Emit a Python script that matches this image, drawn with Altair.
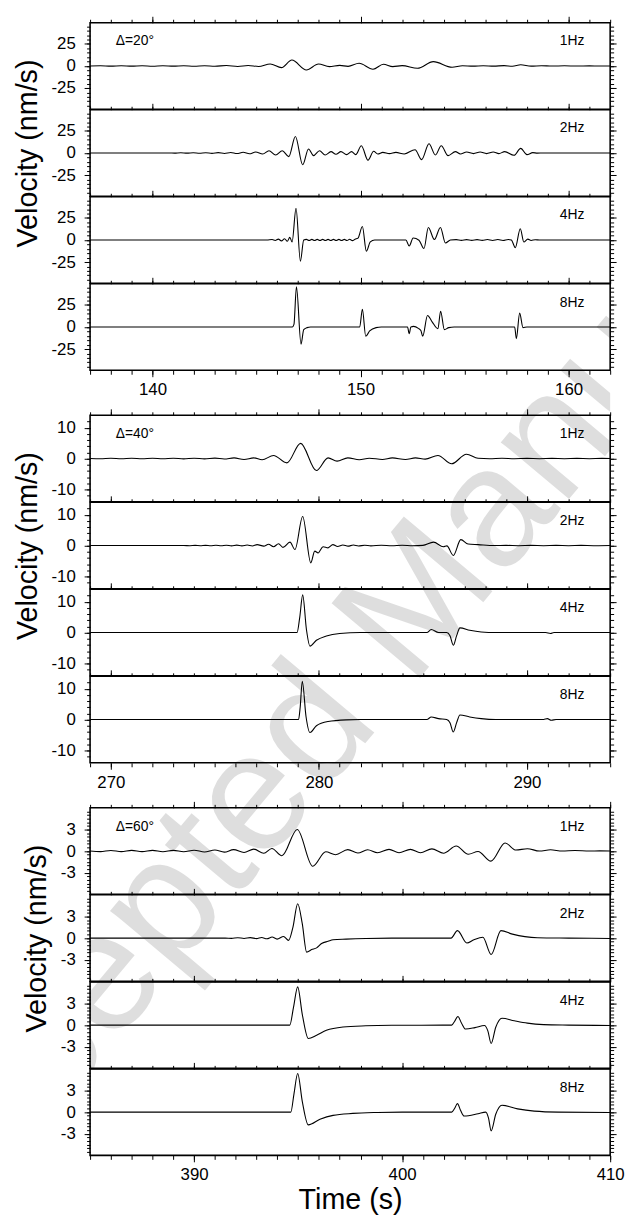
import altair as alt
import pandas as pd

FONT = "Liberation Sans"

DELTA_LABELS = ["Δ=20°", "Δ=40°", "Δ=60°"]
FREQ_LABELS = ["1Hz", "2Hz", "4Hz", "8Hz"]
X_DOMAINS = [[137, 162], [269, 294], [385, 410]]
Y_LIMITS = [49, 14, 6]
X_MAJOR = [[140, 150, 160], [270, 280, 290], [390, 400, 410]]
Y_MAJOR = [[-25, 0, 25], [-10, 0, 10], [-3, 0, 3]]
Y_MINOR_STEP = [5, 2, 0.5]
WATERMARK = "Accepted Manuscript"

# ---------------- Delta = 20 deg ----------------
T20_1 = [137.0, 137.5, 138.0, 138.5, 139.0, 139.5, 140.0, 140.5, 141.0, 141.5, 142.0, 142.5, 143.0, 143.55, 144.1, 144.6, 145.1, 145.66, 146.2, 146.7, 147.4, 147.98, 148.5, 149.0, 149.4, 149.93, 150.6, 151.1, 151.55, 152.0, 152.74, 153.5, 154.4, 154.9, 155.4, 155.9, 156.4, 156.9, 157.3, 157.7, 158.2, 158.7, 159.2, 159.8, 160.4, 161.0, 161.5, 162.0]
V20_1 = [0.0, 0.2, -0.2, 0.2, -0.2, 0.2, -0.3, 0.2, -0.2, 0.3, -0.3, 0.3, -0.3, 0.5, -0.5, 0.6, -0.6, 2.2, -1.9, 6.7, -4.5, 2.2, -0.7, 0.7, -0.4, 3.0, -3.7, 1.9, -0.7, 0.4, -2.6, 4.9, -1.5, 0.3, -0.2, 0.3, -0.2, 0.4, -0.3, 1.3, -0.2, 0.3, -0.1, 0.2, -0.1, 0.1, -0.1, 0.0]

T20_2 = [137.0, 140.8, 141.06, 141.36, 141.66, 141.96, 142.26, 142.56, 142.86, 143.16, 143.46, 143.76, 144.06, 144.36, 144.66, 144.96, 145.3, 145.6, 145.92, 146.24, 146.55, 146.87, 147.22, 147.5, 147.74, 148.03, 148.3, 148.58, 148.82, 149.06, 149.33, 149.57, 149.77, 150.04, 150.36, 150.63, 150.83, 151.07, 151.39, 151.7, 152.1, 152.62, 152.94, 153.29, 153.6, 153.88, 154.21, 154.56, 154.8, 155.1, 155.43, 155.75, 156.06, 156.38, 156.65, 156.93, 157.38, 157.7, 158.0, 158.28, 158.5, 158.8, 162.0]
V20_2 = [0.0, 0.0, -0.2, 0.2, -0.2, 0.3, -0.3, 0.3, -0.4, 0.4, -0.5, 0.6, -0.6, 0.8, -0.9, 1.1, -1.1, 2.6, -2.2, 2.6, -4.1, 18.7, -13.4, 4.5, -3.0, 2.6, -2.2, 1.5, -1.5, 1.5, -1.9, 1.5, -1.9, 8.2, -8.2, 1.9, -1.1, 0.7, -0.7, 0.7, -1.1, 3.7, -7.5, 10.4, -2.2, 8.2, -3.0, 1.5, -1.1, 1.1, -0.7, 1.1, -0.7, 1.1, -0.7, 1.5, -2.6, 5.2, -1.9, 0.4, -0.2, 0.0, 0.0]

T20_3 = [137.0, 145.5, 145.75, 145.9, 146.05, 146.2, 146.35, 146.48, 146.6, 146.71, 146.9, 147.11, 147.27, 147.4, 147.53, 147.66, 147.79, 147.92, 148.05, 148.18, 148.31, 148.44, 148.57, 148.7, 148.83, 148.96, 149.09, 149.22, 149.35, 149.48, 149.61, 149.74, 149.88, 150.09, 150.28, 150.47, 150.68, 151.0, 152.18, 152.34, 152.53, 152.81, 153.05, 153.26, 153.55, 153.84, 154.08, 154.32, 154.6, 154.85, 155.1, 155.35, 155.6, 155.85, 156.1, 156.35, 156.6, 156.85, 157.1, 157.25, 157.44, 157.68, 157.85, 158.04, 158.2, 158.4, 158.6, 162.0]
V20_3 = [0.0, 0.0, 0.5, -0.5, 1.0, -1.0, 1.5, -1.5, 3.0, -2.2, 35.8, -23.9, 0.0, 0.7, -0.6, 0.7, -0.6, 0.7, -0.6, 0.7, -0.6, 0.7, -0.6, 0.7, -0.6, 0.7, -0.6, 0.7, -0.6, 0.8, -0.7, 0.9, 2.2, 15.3, -12.7, -2.2, 0.0, 0.0, 0.0, -6.7, 2.2, -0.3, -9.7, 14.2, 0.5, 14.2, -3.4, 0.0, 0.4, -0.4, 0.4, -0.4, 0.4, -0.4, 0.5, -0.5, 0.5, -0.5, 0.6, 0.0, -8.6, 12.7, -2.2, 1.0, -0.5, 0.3, 0.0, 0.0]

T20_4 = [137.0, 146.72, 146.8, 146.92, 147.14, 147.27, 147.43, 147.6, 149.96, 150.09, 150.25, 150.44, 150.75, 151.0, 152.26, 152.34, 152.42, 152.55, 152.78, 152.9, 152.99, 153.22, 153.45, 153.72, 153.85, 154.03, 154.24, 154.5, 157.41, 157.49, 157.65, 157.81, 158.0, 162.0]
V20_4 = [0.0, 0.0, 3.0, 45.5, -19.4, -3.0, -0.7, 0.0, 0.0, 20.1, -10.4, -4.5, -0.7, 0.0, 0.0, -7.5, 0.0, 0.7, -1.5, -4.0, -10.4, 13.1, 5.6, -1.9, 17.9, -3.0, -0.7, 0.0, 0.0, -13.1, 15.7, -0.7, 0.0, 0.0]

# ---------------- Delta = 40 deg ----------------
T40_1 = [269.0, 269.5, 270.0, 270.5, 271.0, 271.5, 272.0, 272.5, 273.0, 273.5, 274.0, 274.5, 275.0, 275.45, 275.92, 276.4, 276.87, 277.27, 277.82, 278.46, 279.12, 279.88, 280.44, 280.87, 281.39, 281.94, 282.42, 283.05, 283.53, 284.16, 284.64, 285.11, 285.72, 286.38, 287.09, 287.65, 288.2, 288.8, 289.4, 290.0, 290.6, 291.2, 291.8, 292.4, 293.0, 293.6, 294.0]
V40_1 = [0.0, -0.08, 0.08, -0.08, 0.08, -0.08, 0.08, -0.08, 0.1, -0.1, 0.1, -0.1, 0.12, -0.15, 0.2, -0.3, 0.2, -0.4, 1.0, -1.4, 4.9, -3.9, 0.2, -0.85, 0.2, -0.4, 0.1, -0.3, 0.2, -0.3, 0.2, -0.2, 1.0, -1.7, 1.4, 0.1, -0.05, 0.08, -0.05, 0.05, -0.05, 0.05, -0.05, 0.05, -0.05, 0.05, 0.0]

T40_2 = [269.0, 273.5, 273.8, 274.05, 274.3, 274.55, 274.8, 275.05, 275.3, 275.55, 275.8, 276.05, 276.3, 276.55, 276.8, 277.03, 277.35, 277.58, 277.82, 278.06, 278.27, 278.61, 278.85, 279.22, 279.61, 279.8, 279.96, 280.2, 280.44, 280.67, 280.9, 281.15, 281.4, 281.65, 281.9, 282.2, 282.5, 283.0, 283.5, 284.0, 284.5, 285.0, 285.51, 285.98, 286.15, 286.46, 286.82, 287.17, 287.65, 288.44, 289.0, 289.6, 290.2, 290.8, 291.4, 292.0, 292.6, 293.2, 294.0]
V40_2 = [0.0, 0.0, -0.05, 0.05, -0.05, 0.06, -0.06, 0.08, -0.08, 0.1, -0.1, 0.12, -0.12, 0.15, -0.15, 0.3, -0.2, 0.4, -0.4, 0.6, -0.6, 1.1, -1.3, 9.4, -5.6, -1.8, -2.4, -0.4, -0.75, 0.3, -0.3, 0.2, -0.2, 0.15, -0.15, 0.1, -0.1, 0.08, -0.08, 0.08, -0.08, 0.05, 1.1, -0.4, -0.1, -3.2, 1.9, 0.5, 0.3, 0.0, 0.05, -0.05, 0.05, -0.05, 0.05, -0.05, 0.05, -0.05, 0.0]

T40_3 = [269.0, 278.95, 279.08, 279.22, 279.4, 279.57, 279.88, 280.36, 281.0, 282.0, 285.19, 285.4, 285.75, 286.14, 286.3, 286.46, 286.62, 286.78, 287.25, 287.8, 288.5, 290.9, 291.13, 291.3, 294.0]
V40_3 = [0.0, 0.0, 5.0, 12.2, 1.0, -4.4, -2.5, -1.1, -0.3, 0.0, 0.0, 1.0, 0.0, 0.0, -1.0, -4.1, -1.0, 1.5, 0.75, 0.2, 0.0, 0.0, -0.3, 0.0, 0.0]

T40_4 = [269.0, 279.02, 279.1, 279.2, 279.38, 279.57, 279.88, 280.44, 281.31, 282.0, 285.19, 285.4, 285.75, 286.14, 286.3, 286.46, 286.62, 286.78, 287.25, 287.8, 288.5, 290.8, 290.98, 291.17, 291.4, 294.0]
V40_4 = [0.0, 0.0, 4.0, 12.4, 1.0, -4.2, -2.0, -0.64, -0.1, 0.0, 0.0, 0.85, 0.3, 0.0, -1.0, -4.0, -1.0, 1.5, 0.85, 0.3, 0.0, 0.0, 0.3, -0.2, 0.0, 0.0]

# ---------------- Delta = 60 deg ----------------
T60_1 = [385.0, 385.5, 386.0, 386.5, 387.0, 387.5, 388.0, 388.5, 389.0, 389.5, 390.0, 390.5, 391.0, 391.45, 391.9, 392.4, 392.87, 393.35, 393.74, 394.22, 394.96, 395.7, 396.33, 396.8, 397.39, 397.87, 398.34, 398.82, 399.37, 399.85, 400.4, 400.88, 401.43, 401.99, 402.6, 403.18, 403.65, 404.27, 404.95, 405.47, 406.02, 406.6, 407.13, 407.7, 408.3, 409.0, 409.5, 410.0]
V60_1 = [0.0, -0.08, 0.08, -0.08, 0.1, -0.08, 0.1, -0.1, 0.1, -0.1, 0.12, -0.12, 0.15, -0.15, 0.2, -0.2, 0.27, -0.3, 0.36, -0.64, 3.0, -2.1, -0.1, -0.5, 0.2, -0.27, 0.18, -0.23, 0.23, -0.23, 0.23, -0.23, 0.3, -0.3, 0.7, -0.45, -0.05, -1.4, 1.12, 0.14, 0.33, 0.0, 0.18, 0.0, 0.08, 0.0, 0.03, 0.0]

T60_2 = [385.0, 391.5, 391.8, 392.1, 392.4, 392.7, 393.0, 393.25, 393.5, 393.75, 393.99, 394.3, 394.54, 394.75, 394.98, 395.2, 395.41, 395.65, 395.89, 396.13, 396.44, 396.68, 397.31, 398.26, 399.5, 402.35, 402.66, 403.11, 403.45, 403.88, 404.28, 404.75, 405.3, 405.9, 406.5, 408.0, 410.0]
V60_2 = [0.0, 0.0, -0.04, 0.05, -0.05, 0.06, -0.07, 0.08, -0.1, 0.14, -0.14, 0.23, -0.32, 1.5, 4.77, 2.0, -1.95, -1.6, -1.36, -0.75, -0.45, -0.23, -0.14, -0.05, 0.0, 0.0, 1.03, -0.68, -0.23, 0.12, -2.27, 1.03, 0.55, 0.2, 0.05, 0.0, -0.05]

T60_3 = [385.0, 394.6, 394.78, 394.98, 395.2, 395.49, 395.89, 396.36, 397.16, 398.26, 399.5, 402.38, 402.52, 402.68, 402.85, 403.05, 403.5, 403.96, 404.12, 404.28, 404.5, 404.8, 405.39, 406.02, 406.8, 408.0, 410.0]
V60_3 = [0.0, 0.0, 2.5, 5.3, 1.5, -1.86, -1.4, -0.73, -0.27, -0.1, -0.03, 0.0, 0.5, 1.2, 0.3, -0.55, -0.35, -0.05, -0.8, -2.55, -0.3, 0.95, 0.6, 0.27, 0.07, 0.0, -0.05]

T60_4 = [385.0, 394.65, 394.8, 394.98, 395.2, 395.49, 396.05, 396.68, 397.63, 398.8, 400.0, 402.38, 402.52, 402.66, 402.8, 402.98, 403.65, 404.02, 404.15, 404.28, 404.5, 404.8, 405.55, 406.35, 407.5, 410.0]
V60_4 = [0.0, 0.0, 2.5, 5.36, 1.5, -1.77, -1.0, -0.45, -0.18, -0.05, 0.0, 0.0, 0.5, 1.18, 0.3, -0.55, -0.23, 0.0, -0.8, -2.6, -0.3, 0.95, 0.45, 0.14, 0.0, -0.05]

SERIES = [
    [(T20_1, V20_1), (T20_2, V20_2), (T20_3, V20_3), (T20_4, V20_4)],
    [(T40_1, V40_1), (T40_2, V40_2), (T40_3, V40_3), (T40_4, V40_4)],
    [(T60_1, V60_1), (T60_2, V60_2), (T60_3, V60_3), (T60_4, V60_4)],
]
for grp in SERIES:
    for tt, vv in grp:
        assert len(tt) == len(vv), (len(tt), len(vv))

# ---------------- layout / style ----------------
W, H, GAP = 526, 87.5, 44.6
PAGE_LEFT, PAGE_TOP = 91.0, 14.5          # expected page position of first plot area
WM_X, WM_Y = -70.0, 1263.0                # page position of watermark baseline start
WM_SIZE, WM_ANGLE, WM_OPACITY = 170, 310, 0.13
WM_BAND = (300, 1060)                     # vertical page range the watermark crosses inside the plots
MINUS_FIX = "replace(datum.label, '\u2212', '-')"


def common():
    return dict(domain=False, grid=False, tickColor="black", tickWidth=1, minExtent=0)


def x_minor(g):
    lo, hi = X_DOMAINS[g]
    return list(range(lo, hi + 1))


def y_minor(g):
    lim, step = Y_LIMITS[g], Y_MINOR_STEP[g]
    n = int((lim - 1e-9) // step)
    return [round(i * step, 3) for i in range(-n, n + 1)]


def has_watermark(cell_top, cell_h):
    return cell_top + cell_h > WM_BAND[0] and cell_top < WM_BAND[1]


def watermark(cell_top):
    return alt.Chart(pd.DataFrame({"s": [WATERMARK]})).mark_text(
        align="left", baseline="alphabetic", angle=WM_ANGLE, fontSize=WM_SIZE, font=FONT,
        color="black", opacity=WM_OPACITY, clip=True
    ).encode(x=alt.value(WM_X - PAGE_LEFT), y=alt.value(WM_Y - cell_top), text="s:N")


def panel(g, k, cell_top):
    tt, vv = SERIES[g][k]
    df = pd.DataFrame({"t": tt, "v": vv})
    xs = alt.Scale(domain=X_DOMAINS[g], nice=False, zero=False)
    lim = Y_LIMITS[g]
    ys = alt.Scale(domain=[-lim, lim], nice=False, zero=False)
    bottom = k == 3

    yleft_kw = dict(orient="left", values=Y_MAJOR[g], tickSize=6, labelPadding=9,
                    labelFontSize=17, labelColor="black", labelExpr=MINUS_FIX, **common())
    ytitle = None
    if k == 1:
        ytitle = "Velocity (nm/s)"
        yleft_kw.update(titleFontSize=29, titleFontWeight="normal", titlePadding=9, titleColor="black")

    line = alt.Chart(df).mark_line(color="black", strokeWidth=1.1, interpolate="monotone", clip=True).encode(
        x=alt.X("t:Q", scale=xs, title=None,
                axis=alt.Axis(orient="top", values=X_MAJOR[g], tickSize=6.5, labels=False, **common())),
        y=alt.Y("v:Q", scale=ys, title=ytitle, axis=alt.Axis(**yleft_kw)),
    )
    minor = alt.Chart(df).mark_line(opacity=0).encode(
        x=alt.X("t:Q", scale=xs, title=None,
                axis=alt.Axis(orient="top", values=x_minor(g), tickSize=3.5, labels=False, **common())),
        y=alt.Y("v:Q", scale=ys, title=None,
                axis=alt.Axis(orient="left", values=y_minor(g), tickSize=3.5, labels=False, **common())),
    )

    if bottom:
        xb_kw = dict(orient="bottom", values=X_MAJOR[g], tickSize=6.5, labelPadding=5, labelFontSize=17,
                     labelColor="black", labelFlush=False, labelOverlap=False, **common())
        xtitle = None
        if g == 2:
            xtitle = "Time (s)"
            xb_kw.update(titleFontSize=29, titleFontWeight="normal", titlePadding=3, titleColor="black")
        xb = alt.X("t:Q", scale=xs, title=xtitle, axis=alt.Axis(**xb_kw))
        xbm = alt.X("t:Q", scale=xs, title=None,
                    axis=alt.Axis(orient="bottom", values=x_minor(g), tickSize=4, labels=False, **common()))
    else:
        xb = alt.X("t:Q", scale=xs, title=None, axis=None)
        xbm = alt.X("t:Q", scale=xs, title=None, axis=None)

    rmaj = alt.Chart(df).mark_line(opacity=0).encode(
        x=xb,
        y=alt.Y("v:Q", scale=ys, title=None,
                axis=alt.Axis(orient="right", values=Y_MAJOR[g], tickSize=6, labels=False, **common())),
    )
    rmin = alt.Chart(df).mark_line(opacity=0).encode(
        x=xbm,
        y=alt.Y("v:Q", scale=ys, title=None,
                axis=alt.Axis(orient="right", values=y_minor(g), tickSize=3.5, labels=False, **common())),
    )

    layers = []
    if has_watermark(cell_top, H):
        layers.append(watermark(cell_top))
    layers += [line, minor, rmaj, rmin]
    freq = alt.Chart(pd.DataFrame({"s": [FREQ_LABELS[k]]})).mark_text(
        align="right", baseline="middle", fontSize=14, font=FONT, color="black"
    ).encode(x=alt.value(500), y=alt.value(19), text="s:N")
    layers.append(freq)
    if k == 0:
        dl = alt.Chart(pd.DataFrame({"s": [DELTA_LABELS[g]]})).mark_text(
            align="left", baseline="middle", fontSize=14, font=FONT, color="black"
        ).encode(x=alt.value(26), y=alt.value(19), text="s:N")
        layers.append(dl)

    return alt.layer(*layers).resolve_axis(x="independent", y="independent").properties(width=W, height=H)


def spacer(cell_top):
    return watermark(cell_top).properties(width=W, height=GAP, view=alt.ViewBackground(strokeOpacity=0))


cells = []
top = PAGE_TOP
for g in range(3):
    for k in range(4):
        cells.append(panel(g, k, top))
        top += H
    if g < 2:
        cells.append(spacer(top))
        top += GAP

chart = alt.vconcat(*cells, spacing=0, bounds="flush").properties(
    padding={"left": 4, "top": 0, "right": 0, "bottom": 0}, background="white"
).configure(font=FONT).configure_view(stroke="black", strokeWidth=1.6)

chart.save("out.html", embed_options={"renderer": "svg", "actions": False})
